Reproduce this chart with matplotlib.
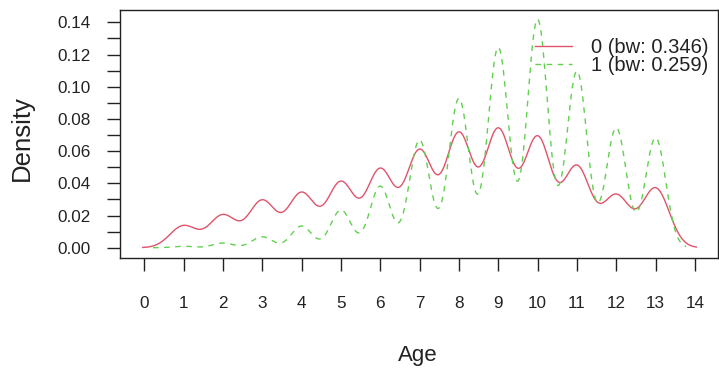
import numpy as np
import matplotlib.pyplot as plt

plt.rcParams['font.family'] = ['Liberation Sans', 'DejaVu Sans']

ages = np.arange(1, 14)
peak_0 = [0.0139, 0.0207, 0.0298, 0.0346, 0.0414, 0.0495, 0.0613,
          0.0720, 0.0745, 0.0696, 0.0514, 0.0334, 0.0373]
peak_1 = [0.0009, 0.0029, 0.0068, 0.0135, 0.0234, 0.0383, 0.0669,
          0.0928, 0.1245, 0.1420, 0.1097, 0.0745, 0.0683]
bw_0 = 0.346
bw_1 = 0.259
labels = ['0 (bw: 0.346)', '1 (bw: 0.259)']
x_ticks = list(range(0, 15))
y_ticks = [0.00, 0.02, 0.04, 0.06, 0.08, 0.10, 0.12, 0.14]


def kde_curve(peaks, bw):
    # gaussian kernels at each age, weights chosen so the peaks match
    k = lambda d: np.exp(-0.5 * (d / bw) ** 2) / (bw * np.sqrt(2 * np.pi))
    w = np.linalg.solve(k(ages[:, None] - ages[None, :]), np.array(peaks))
    x = np.linspace(ages.min() - 3 * bw, ages.max() + 3 * bw, 512)
    return x, (w[None, :] * k(x[:, None] - ages[None, :])).sum(axis=1)


fig = plt.figure(figsize=(7.19, 3.74), dpi=100)
ax = fig.add_axes([120 / 719, 1 - 257.7 / 374, 597.7 / 719, 247.7 / 374])

x0, y0 = kde_curve(peak_0, bw_0)
x1, y1 = kde_curve(peak_1, bw_1)
ax.plot(x0, y0, color='#DF536B', lw=1, label=labels[0])
ax.plot(x1, y1, color='#61D04F', lw=1, linestyle=(0, (4, 4)), label=labels[1])

ax.set_xlim(-0.616, 14.58)
ax.set_ylim(-0.00621, 0.14764)

ax.set_xticks(x_ticks)
ax.set_yticks(y_ticks)
ax.set_yticks(np.arange(0.01, 0.14, 0.02), minor=True)
ax.set_yticklabels([f'{v:.2f}' for v in y_ticks])
ax.tick_params(axis='both', which='both', direction='out', length=9.3,
               width=1, color='#222222', labelsize=12.3, labelcolor='#222222')
ax.tick_params(axis='x', pad=18.5)
ax.tick_params(axis='y', pad=11.5)

for s in ax.spines.values():
    s.set_linewidth(1)
    s.set_color('#222222')

fig.text(418 / 719, 1 - 355 / 374, 'Age', ha='center', va='center',
         fontsize=16, color='#222222')
fig.text(22 / 719, 1 - 138 / 374, 'Density', ha='center', va='center',
         rotation=90, fontsize=18.5, color='#222222')

ax.legend(loc='upper left', bbox_to_anchor=(535 / 719, 1 - 38 / 374),
          bbox_transform=fig.transFigure, frameon=False, fontsize=14.5,
          borderpad=0, borderaxespad=0, handlelength=1.85,
          handletextpad=0.93, labelspacing=-0.06, labelcolor='#222222')

fig.savefig('out.png', dpi=100)
